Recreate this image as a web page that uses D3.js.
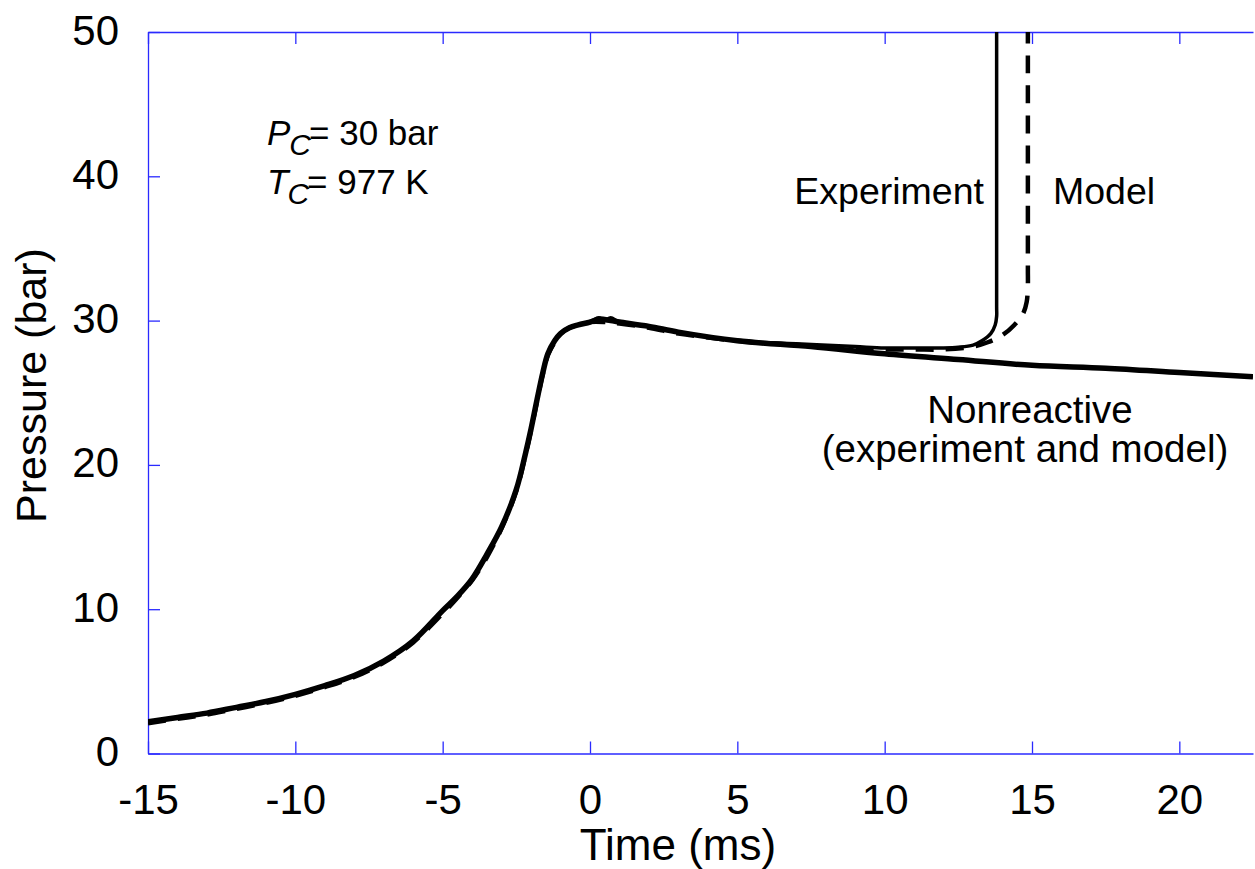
<!DOCTYPE html>
<html>
<head>
<meta charset="utf-8">
<script src="https://cdn.jsdelivr.net/npm/d3@7"></script>
<style>
	html, body { margin: 0; padding: 0; background: #fff; }
	svg { display: block; font-family: 'Liberation Sans', Arial, sans-serif; }
</style>
</head>
<body>
<svg id="main-vis" width="1255" height="869"></svg>
<script>
// DATA
const x_ticks = [-15, -10, -5, 0, 5, 10, 15, 20]
const y_ticks = [0, 10, 20, 30, 40, 50]

// NONREACTIVE (EXPERIMENT AND MODEL)
const nonreactive_time = [-15, -14, -13, -12, -11, -10, -9, -8, -7, -6, -5, -4.5, -4, -3.5, -3, -2.5, -2.2, -2, -1.8, -1.6, -1.43, -1.2, -1, -0.7, -0.4, 0, 0.3, 0.7, 1, 2, 3, 5, 7.5, 10, 12.5, 15, 17.5, 20, 22.5]
const nonreactive_p = [2.2, 2.5, 2.8, 3.2, 3.6, 4.1, 4.7, 5.4, 6.4, 7.8, 9.9, 10.9, 12.1, 13.8, 15.7, 18.3, 20.7, 22.5, 24.5, 26.4, 27.7, 28.6, 29.1, 29.5, 29.7, 29.9, 30.1, 30.0, 29.9, 29.6, 29.2, 28.6, 28.2, 27.7, 27.3, 26.9, 26.7, 26.4, 26.1]

// REACTIVE EXPERIMENT
const experiment_time = [-15, -14, -13, -12, -11, -10, -9, -8, -7, -6, -5, -4.5, -4, -3.5, -3, -2.5, -2.2, -2, -1.8, -1.6, -1.43, -1.2, -1, -0.7, -0.4, 0, 0.3, 0.5, 0.7, 1, 2, 3, 5, 7, 9, 10, 11, 12, 12.5, 13, 13.3, 13.6, 13.75, 13.8, 13.8, 13.8]
const experiment_p = [2.2, 2.5, 2.8, 3.2, 3.6, 4.1, 4.7, 5.4, 6.4, 7.8, 9.9, 10.9, 12.1, 13.8, 15.7, 18.3, 20.7, 22.5, 24.5, 26.4, 27.7, 28.6, 29.1, 29.5, 29.7, 29.9, 30.2, 30.0, 30.2, 29.9, 29.6, 29.2, 28.6, 28.4, 28.2, 28.1, 28.1, 28.1, 28.15, 28.3, 28.6, 29.1, 29.7, 30.3, 31.0, 50.5]

// REACTIVE MODEL
const model_time = [-15, -14, -13, -12, -11, -10, -9, -8, -7, -6, -5, -4.5, -4, -3.5, -3, -2.5, -2.2, -2, -1.8, -1.6, -1.43, -1.2, -1, -0.7, -0.4, 0, 0.5, 1, 2, 3, 5, 7, 9, 10, 11, 12, 13, 13.5, 14, 14.4, 14.7, 14.82, 14.86, 14.86, 14.86]
const model_p = [2.1, 2.4, 2.7, 3.1, 3.5, 4.0, 4.6, 5.3, 6.3, 7.7, 9.7, 10.8, 12.0, 13.6, 15.6, 18.2, 20.6, 22.4, 24.4, 26.3, 27.6, 28.5, 29.1, 29.5, 29.7, 29.9, 29.9, 29.8, 29.5, 29.1, 28.6, 28.3, 28.1, 28.0, 28.0, 28.0, 28.2, 28.5, 29.0, 29.7, 30.5, 31.3, 32.5, 33.5, 50.5]

function DOMLoad () {
	const width = 1255
	const height = 869
	const margin = { top: 32, right: 2, bottom: 115.5, left: 148 }
	const axis_color = '#2a2aff'

	const svg = d3.select('svg#main-vis')
	.attr('viewBox', `0 0 ${width} ${height}`)

	const x = d3.scaleLinear()
	.domain([-15, 22.5])
	.range([margin.left, width - margin.right])
	const y = d3.scaleLinear()
	.domain([0, 50])
	.range([height - margin.bottom, margin.top])

	// CLIP
	svg.append('defs').append('clipPath').attr('id', 'plot-clip')
	.append('rect')
	.attr('x', x(-15)).attr('y', y(50))
	.attr('width', x(22.5) - x(-15)).attr('height', y(0) - y(50))

	// AXES (TICKS INWARD)
	const tick_len = 12
	const bottom_axis = svg.append('g')
	.attr('transform', `translate(0, ${y(0)})`)
	.call(d3.axisBottom(x).tickValues(x_ticks).tickSizeInner(-tick_len).tickSizeOuter(0).tickFormat(d => d))
	const top_axis = svg.append('g')
	.attr('transform', `translate(0, ${y(50)})`)
	.call(d3.axisTop(x).tickValues(x_ticks).tickSizeInner(-tick_len).tickSizeOuter(0).tickFormat(''))
	const left_axis = svg.append('g')
	.attr('transform', `translate(${x(-15)}, 0)`)
	.call(d3.axisLeft(y).tickValues(y_ticks).tickSizeInner(-tick_len).tickSizeOuter(0).tickFormat(d => d))

	;[bottom_axis, top_axis, left_axis].forEach(g => {
		g.select('.domain').attr('stroke', axis_color).attr('stroke-width', 1.3)
		g.selectAll('.tick line').attr('stroke', axis_color).attr('stroke-width', 1.3)
		g.selectAll('.tick text')
		.attr('fill', '#000')
		.style('font-size', '42px')
		.style('font-family', "'Liberation Sans', Arial, sans-serif")
	})
	bottom_axis.selectAll('.tick text').attr('y', 18).attr('dy', '1.02em')
	left_axis.selectAll('.tick text').attr('x', -29).attr('dy', '12px')

	// SERIES
	const line = d3.line()
	.x(d => x(d[0]))
	.y(d => y(d[1]))
	.curve(d3.curveCatmullRom.alpha(0.5))
	const plot = svg.append('g').attr('clip-path', 'url(#plot-clip)')

	plot.append('path')
	.datum(d3.zip(nonreactive_time, nonreactive_p))
	.attr('d', line)
	.attr('fill', 'none').attr('stroke', '#000').attr('stroke-width', 5.5)
	.attr('stroke-linejoin', 'round')

	plot.append('path')
	.datum(d3.zip(model_time, model_p))
	.attr('d', line)
	.attr('fill', 'none').attr('stroke', '#000').attr('stroke-width', 4.5)
	.attr('stroke-dasharray', '18,12')

	plot.append('path')
	.datum(d3.zip(experiment_time, experiment_p))
	.attr('d', line)
	.attr('fill', 'none').attr('stroke', '#000').attr('stroke-width', 3.5)
	.attr('stroke-linejoin', 'round')

	// AXIS TITLES
	svg.append('text')
	.attr('x', 678).attr('y', 860)
	.attr('text-anchor', 'middle')
	.style('font-size', '44px')
	.text('Time (ms)')
	svg.append('text')
	.attr('transform', `translate(46, ${(248 + 523) / 2}) rotate(-90)`)
	.attr('text-anchor', 'middle')
	.style('font-size', '43px')
	.text('Pressure (bar)')

	// ANNOTATIONS
	const note_size = '37.5px'
	svg.append('text')
	.attr('x', 984).attr('y', 204)
	.attr('text-anchor', 'end')
	.style('font-size', note_size)
	.text('Experiment')
	svg.append('text')
	.attr('x', 1053).attr('y', 204)
	.style('font-size', note_size)
	.text('Model')
	const nonreactive_label = svg.append('text')
	.attr('text-anchor', 'middle')
	.style('font-size', '38.5px')
	nonreactive_label.append('tspan').attr('x', 1030).attr('y', 423).text('Nonreactive')
	nonreactive_label.append('tspan').attr('x', 1025).attr('y', 462).text('(experiment and model)')

	// CONDITIONS
	const conditions = [
		{ sym: 'P', val: '= 30 bar', yb: 145 },
		{ sym: 'T', val: '= 977 K', yb: 194 }
	]
	conditions.forEach(c => {
		const t = svg.append('text')
		.attr('x', 267).attr('y', c.yb)
		.style('font-size', '35px')
		t.append('tspan').style('font-style', 'italic').text(c.sym)
		t.append('tspan').style('font-style', 'italic').style('font-size', '30px').attr('dy', 10).attr('dx', -1).text('C')
		t.append('tspan').attr('dy', -10).attr('dx', -2).text(c.val)
	})
}

if (document.readyState === 'loading') {
	document.addEventListener('DOMContentLoaded', DOMLoad)
} else {
	DOMLoad()
}
</script>
</body>
</html>
